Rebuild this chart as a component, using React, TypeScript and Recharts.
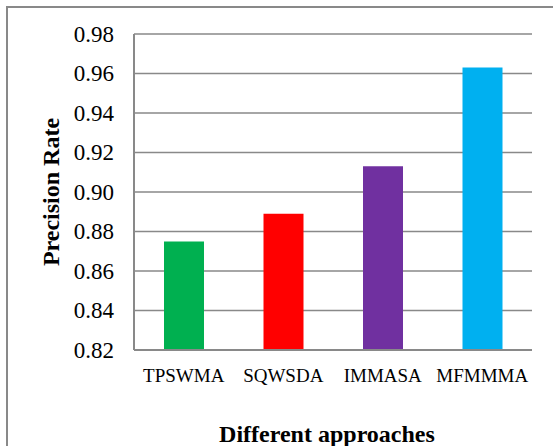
import React from 'react';
import { BarChart, Bar, XAxis, YAxis, CartesianGrid, Cell } from 'recharts';

const categories = ['TPSWMA', 'SQWSDA', 'IMMASA', 'MFMMMA'];
const precision = [0.875, 0.889, 0.913, 0.963];
const barColors = ['#00B050', '#FF0000', '#7030A0', '#00B0F0'];
const yTicks = [0.82, 0.84, 0.86, 0.88, 0.9, 0.92, 0.94, 0.96, 0.98];

const data = categories.map((name, i) => ({ name, value: precision[i] }));

const FONT = "'Liberation Serif', 'Times New Roman', serif";
const GRAY = '#898989';

const YLabel = (props: any) => {
  const vb = props.viewBox || {};
  const cx = (vb.x ?? 0) + 51;
  const cy = (vb.y ?? 0) + (vb.height ?? 0) / 2;
  return (
    <text
      x={cx}
      y={cy}
      transform={`rotate(-90, ${cx}, ${cy})`}
      textAnchor="middle"
      dominantBaseline="central"
      style={{ fontFamily: FONT, fontWeight: 'bold', fontSize: 24 }}
      fill="#000"
    >
      Precision Rate
    </text>
  );
};

const XLabel = (props: any) => {
  const vb = props.viewBox || {};
  const cx = (vb.x ?? 0) + (vb.width ?? 0) / 2 - 6;
  const by = (vb.y ?? 0) + (vb.height ?? 0) - 4;
  return (
    <text
      x={cx}
      y={by}
      textAnchor="middle"
      style={{ fontFamily: FONT, fontWeight: 'bold', fontSize: 24 }}
      fill="#000"
    >
      Different approaches
    </text>
  );
};

const XTick = (props: any) => {
  const { x, y, payload } = props;
  return (
    <text
      x={x}
      y={y + 14}
      textAnchor="middle"
      style={{ fontFamily: FONT, fontSize: 19 }}
      fill="#000"
    >
      {payload.value}
    </text>
  );
};

const YTick = (props: any) => {
  const { x, y, payload } = props;
  return (
    <text
      x={x}
      y={y}
      textAnchor="end"
      dominantBaseline="central"
      style={{ fontFamily: FONT, fontSize: 23 }}
      fill="#000"
    >
      {Number(payload.value).toFixed(2)}
    </text>
  );
};

export default function App() {
  return (
    <div style={{ position: 'absolute', left: 0, top: 0, width: 553, height: 446, overflow: 'hidden', background: '#fff', fontFamily: FONT }}>
      <div
        style={{
          position: 'absolute',
          left: 6,
          top: 6,
          width: 547,
          height: 440,
          borderLeft: `2px solid ${GRAY}`,
          borderTop: `2px solid ${GRAY}`,
          boxSizing: 'border-box',
        }}
      />
      <div style={{ position: 'absolute', left: 0, top: 0 }}>
        <BarChart
          width={553}
          height={446}
          data={data}
          margin={{ top: 34, right: 21, left: 0, bottom: 0 }}
        >
          <CartesianGrid vertical={false} stroke={GRAY} strokeWidth={1.5} />
          <XAxis
            dataKey="name"
            height={96}
            tickLine={false}
            tickMargin={12}
            axisLine={{ stroke: GRAY, strokeWidth: 2 }}
            tick={<XTick />}
            interval={0}
            label={<XLabel />}
          />
          <YAxis
            width={134}
            domain={[0.82, 0.98]}
            ticks={yTicks}
            allowDataOverflow
            tickLine={false}
            tickMargin={14}
            axisLine={{ stroke: GRAY, strokeWidth: 2 }}
            tick={<YTick />}
            label={<YLabel />}
          />
          <Bar dataKey="value" barSize={40} isAnimationActive={false}>
            {data.map((d, i) => (
              <Cell key={d.name} fill={barColors[i]} />
            ))}
          </Bar>
        </BarChart>
      </div>
    </div>
  );
}
